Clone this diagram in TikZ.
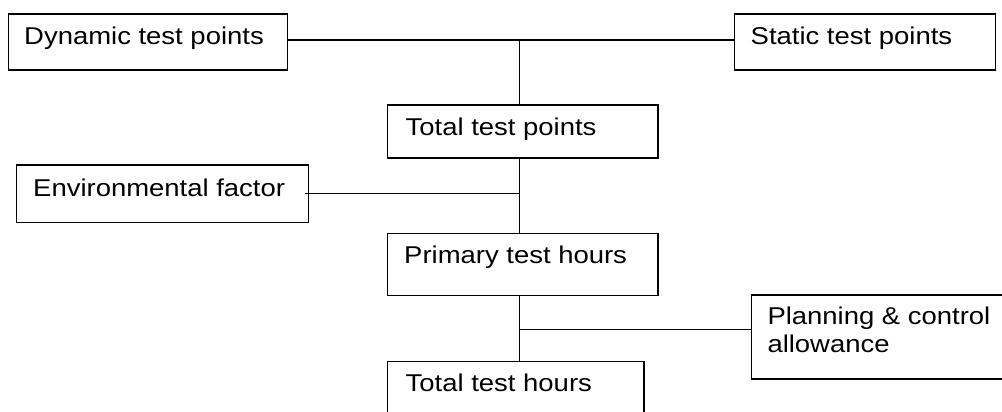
\documentclass[tikz,border=0pt]{standalone}
\usepackage{fontspec}
\setmainfont{Liberation Sans}
\newfontfamily\boxfont[FakeStretch=1.13]{Liberation Sans}
\begin{document}
\begin{tikzpicture}[x=1pt,y=-1pt,
  box/.style={draw, line width=1.4pt, rectangle, anchor=north west, inner sep=0pt},
  caption/.style={anchor=base west, inner sep=0pt, align=left,
    font=\boxfont\fontsize{24.3}{28.4}\selectfont},
  link/.style={line width=1.4pt}]
\clip (0,0) rectangle (1002,412);
\fill[white] (0,0) rectangle (1002,412);

% boxes
\node[box, minimum width=278.7pt, minimum height=56pt]   (dyn)  at (8,13.3)     {};
\node[box, minimum width=261pt,   minimum height=56pt]   (stat) at (734,13.3)   {};
\node[box, minimum width=270.6pt, minimum height=53pt]   (ttp)  at (386.7,104.3) {};
\node[box, minimum width=291.7pt, minimum height=57.4pt] (env)  at (16,164.3)   {};
\node[box, minimum width=270.6pt, minimum height=62pt]   (pth)  at (386.7,232.5) {};
\node[box, minimum width=270pt,   minimum height=84pt]   (pca)  at (751,294.3)  {};
\node[box, minimum width=256.6pt, minimum height=62pt]   (tth)  at (386.7,361)  {};

% box captions (base of a two-line caption is its last line)
\node[caption] (dynt)  at (24,44.3)    {Dynamic test points};
\node[caption] (statt) at (750.5,44.3) {Static test points};
\node[caption] (ttpt)  at (405.5,135.7) {Total test points};
\node[caption] (envt)  at (33,196.7)   {Environmental factor};
\node[caption] (ptht)  at (404,263.3)  {Primary test hours};
\node[caption] (pcat)  at (767.3,352.7) {Planning \& control\\allowance};
\node[caption] (ttht)  at (405.5,391)  {Total test hours};

% connector end points
\coordinate (spine) at (519.5,0);
\coordinate (dynE)  at ([yshift=2pt]dyn.east);
\coordinate (statW) at ([yshift=2pt]stat.west);
\coordinate (envE)  at ([xshift=-4.4pt]env.east);
\coordinate (pcaW)  at ([yshift=7.3pt]pca.west);

% connectors
\draw[link] (dynE) -- (statW);
\draw[link] (spine |- dynE) -- (spine |- ttp.north);
\draw[link] (spine |- ttp.south) -- (spine |- pth.north);
\draw[link] (envE) -- (spine |- envE);
\draw[link] (spine |- pth.south) -- (spine |- tth.north);
\draw[link] (spine |- pcaW) -- (pcaW);
\end{tikzpicture}
\end{document}
